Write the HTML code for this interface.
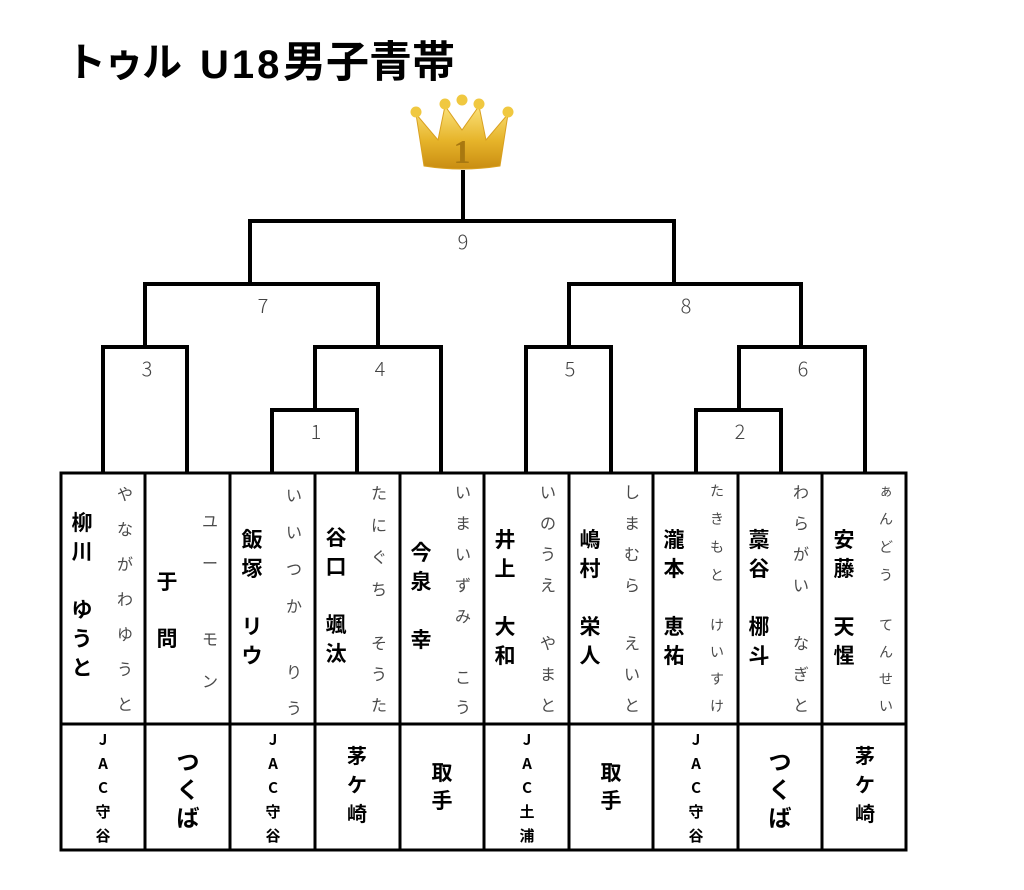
<!DOCTYPE html>
<html><head><meta charset="utf-8">
<style>
body{margin:0;background:#fff;}
#w{position:relative;width:1024px;height:890px;overflow:hidden;font-family:"Liberation Sans","Noto Sans CJK JP",sans-serif;}
.t{position:absolute;font-weight:bold;color:#000;white-space:pre;line-height:1;font-family:"Liberation Sans","Noto Sans CJK JP",sans-serif;}
.lb{position:absolute;font-size:20px;color:#444;width:30px;text-align:center;font-family:"Noto Sans CJK JP",sans-serif;font-weight:300;}
.k{position:absolute;width:30px;text-align:center;font-size:21px;font-weight:bold;line-height:29px;font-family:"Noto Sans CJK JP",sans-serif;color:#000;}
.f{position:absolute;width:24px;text-align:center;font-size:16px;color:#4a4a4a;font-family:"Noto Sans CJK JP",sans-serif;font-weight:400;}
.c{position:absolute;width:84px;text-align:center;font-weight:bold;font-family:"Noto Sans CJK JP",sans-serif;color:#000;}
</style></head><body><div id="w">
<div class="t" style="left:66px;top:43px;font-size:40px;letter-spacing:-2px">トゥル</div>
<div class="t" style="left:200px;top:45px;font-size:40px;letter-spacing:3px">U18</div>
<div class="t" style="left:283px;top:42px;font-size:43px">男子青帯</div>
<svg width="1024" height="890" style="position:absolute;left:0;top:0">
<defs><linearGradient id="g" x1="0" y1="0" x2="0" y2="1"><stop offset="0" stop-color="#fbe27a"/><stop offset="0.55" stop-color="#e6b42a"/><stop offset="1" stop-color="#c98d12"/></linearGradient></defs>
<path d="M416 114 L438 140 L445 106 L462 130 L479 106 L486 140 L508 114 L500 166 Q462 172 424 166 Z" fill="url(#g)" stroke="#d9a020" stroke-width="1"/>
<circle cx="416" cy="112" r="5.5" fill="#f0c840"/><circle cx="445" cy="104" r="5.5" fill="#f0c840"/><circle cx="462" cy="100" r="5.5" fill="#f0c840"/><circle cx="479" cy="104" r="5.5" fill="#f0c840"/><circle cx="508" cy="112" r="5.5" fill="#f0c840"/>
<text x="462" y="163" font-size="34" text-anchor="middle" fill="#a87810" font-family="Liberation Serif, serif" font-weight="bold">1</text>
<g stroke="#000" stroke-width="4" fill="none" stroke-linecap="square">
<line x1="463" y1="172" x2="463" y2="221"/>
<polyline points="250,284 250,221 674,221 674,284"/>
<polyline points="103,472 103,347 187,347 187,472"/>
<polyline points="272,472 272,410 357,410 357,472"/>
<polyline points="315,410 315,347 441,347 441,472"/>
<polyline points="145,347 145,284 378,284 378,347"/>
<polyline points="526,472 526,347 611,347 611,472"/>
<polyline points="696,472 696,410 781,410 781,472"/>
<polyline points="739,410 739,347 865,347 865,472"/>
<polyline points="569,347 569,284 801,284 801,347"/>
</g>
<g stroke="#000" stroke-width="3" fill="none">
<rect x="61" y="473" width="845" height="377"/>
<line x1="61" y1="724" x2="906" y2="724"/>
<line x1="145" y1="473" x2="145" y2="850"/><line x1="230" y1="473" x2="230" y2="850"/><line x1="315" y1="473" x2="315" y2="850"/><line x1="400" y1="473" x2="400" y2="850"/><line x1="484" y1="473" x2="484" y2="850"/><line x1="569" y1="473" x2="569" y2="850"/><line x1="653" y1="473" x2="653" y2="850"/><line x1="738" y1="473" x2="738" y2="850"/><line x1="822" y1="473" x2="822" y2="850"/>
</g>
</svg>
<div class="lb" style="left:448px;top:226px">9</div>
<div class="lb" style="left:248px;top:290px">7</div>
<div class="lb" style="left:671px;top:290px">8</div>
<div class="lb" style="left:132px;top:353px">3</div>
<div class="lb" style="left:365px;top:353px">4</div>
<div class="lb" style="left:555px;top:353px">5</div>
<div class="lb" style="left:788px;top:353px">6</div>
<div class="lb" style="left:301px;top:416px">1</div>
<div class="lb" style="left:725px;top:416px">2</div>

<div class="k" style="left:67px;top:508px">柳<br>川<br>&nbsp;<br>ゆ<br>う<br>と</div>
<div class="f" style="left:113px;top:476px;line-height:35px">や<br>な<br>が<br>わ<br>ゆ<br>う<br>と</div>
<div class="k" style="left:152px;top:553px;line-height:57px">于<br>問</div>
<div class="f" style="left:198px;top:499px;line-height:42px">ユ<br>ー</div>
<div class="f" style="left:198px;top:617px;line-height:42px">モ<br>ン</div>
<div class="k" style="left:237px;top:525px">飯<br>塚<br>&nbsp;<br>リ<br>ウ</div>
<div class="f" style="left:282px;top:476px;line-height:37px">い<br>い<br>つ<br>か</div>
<div class="f" style="left:282px;top:653px;line-height:36px">り<br>う</div>
<div class="k" style="left:321px;top:523px">谷<br>口<br>&nbsp;<br>颯<br>汰</div>
<div class="f" style="left:367px;top:476px;line-height:32px">た<br>に<br>ぐ<br>ち</div>
<div class="f" style="left:367px;top:627px;line-height:31px">そ<br>う<br>た</div>
<div class="k" style="left:406px;top:538px">今<br>泉<br>&nbsp;<br>幸</div>
<div class="f" style="left:451px;top:476px;line-height:31px">い<br>ま<br>い<br>ず<br>み</div>
<div class="f" style="left:451px;top:661px;line-height:30px">こ<br>う</div>
<div class="k" style="left:490px;top:525px">井<br>上<br>&nbsp;<br>大<br>和</div>
<div class="f" style="left:536px;top:476px;line-height:31px">い<br>の<br>う<br>え</div>
<div class="f" style="left:536px;top:627px;line-height:31px">や<br>ま<br>と</div>
<div class="k" style="left:575px;top:525px">嶋<br>村<br>&nbsp;<br>栄<br>人</div>
<div class="f" style="left:620px;top:476px;line-height:31px">し<br>ま<br>む<br>ら</div>
<div class="f" style="left:620px;top:627px;line-height:31px">え<br>い<br>と</div>
<div class="k" style="left:659px;top:525px">瀧<br>本<br>&nbsp;<br>恵<br>祐</div>
<div class="f" style="left:705px;top:477px;line-height:28px;font-size:14px">た<br>き<br>も<br>と</div>
<div class="f" style="left:705px;top:612px;line-height:27px;font-size:14px">け<br>い<br>す<br>け</div>
<div class="k" style="left:744px;top:525px">藁<br>谷<br>&nbsp;<br>梛<br>斗</div>
<div class="f" style="left:789px;top:476px;line-height:31px">わ<br>ら<br>が<br>い</div>
<div class="f" style="left:789px;top:627px;line-height:31px">な<br>ぎ<br>と</div>
<div class="k" style="left:829px;top:525px">安<br>藤<br>&nbsp;<br>天<br>惺</div>
<div class="f" style="left:874px;top:477px;line-height:28px;font-size:14px">ぁ<br>ん<br>ど<br>う</div>
<div class="f" style="left:874px;top:612px;line-height:27px;font-size:14px">て<br>ん<br>せ<br>い</div>

<div class="c" style="left:61px;top:728px;font-size:15px;line-height:24px">J<br>A<br>C<br>守<br>谷</div>
<div class="c" style="left:146px;top:746px;font-size:23px;line-height:28px">つ<br>く<br>ば</div>
<div class="c" style="left:231px;top:728px;font-size:15px;line-height:24px">J<br>A<br>C<br>守<br>谷</div>
<div class="c" style="left:315px;top:740px;font-size:20px;line-height:29px">茅<br>ケ<br>崎</div>
<div class="c" style="left:400px;top:758px;font-size:21px;line-height:28px">取<br>手</div>
<div class="c" style="left:485px;top:728px;font-size:15px;line-height:24px">J<br>A<br>C<br>土<br>浦</div>
<div class="c" style="left:569px;top:758px;font-size:21px;line-height:28px">取<br>手</div>
<div class="c" style="left:654px;top:728px;font-size:15px;line-height:24px">J<br>A<br>C<br>守<br>谷</div>
<div class="c" style="left:738px;top:746px;font-size:23px;line-height:28px">つ<br>く<br>ば</div>
<div class="c" style="left:823px;top:740px;font-size:20px;line-height:29px">茅<br>ケ<br>崎</div>
</div></body></html>
